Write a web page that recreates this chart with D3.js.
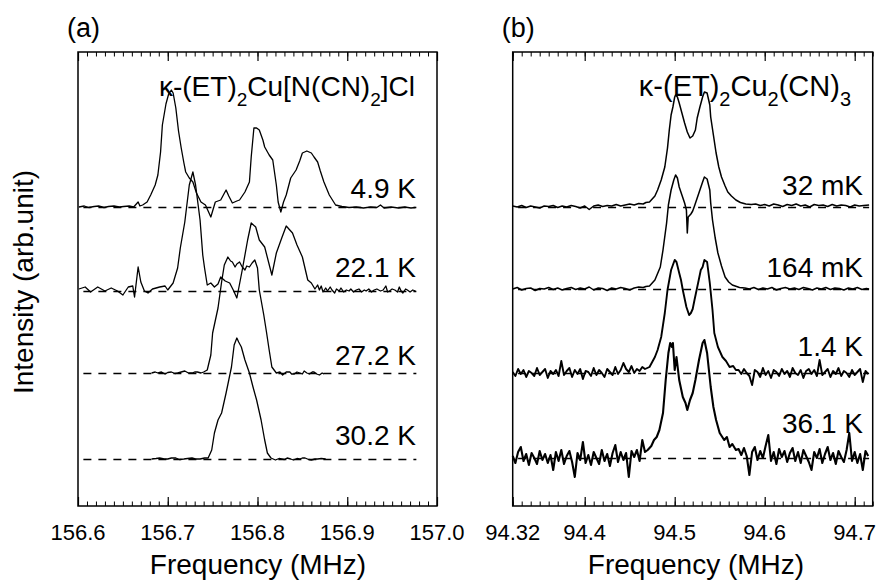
<!DOCTYPE html>
<html>
<head>
<meta charset="utf-8">
<script src="https://cdn.jsdelivr.net/npm/d3@7"></script>
<style>
body { margin: 0; background: white; }
text { font-family: "Liberation Sans", Arial, sans-serif; fill: black; }
</style>
</head>
<body>
<div id="chart"></div>
<script>
// axis ticks
var ticksA = [156.6, 156.7, 156.8, 156.9, 157.0];
var tickLabelsA = ['156.6', '156.7', '156.8', '156.9', '157.0'];
var ticksB = [94.32, 94.4, 94.5, 94.6, 94.7];
var tickLabelsB = ['94.32', '94.4', '94.5', '94.6', '94.7'];

// temperatures and vertical offsets of each trace (arb. unit)
var tempsA = ['4.9 K', '22.1 K', '27.2 K', '30.2 K'];
var offsetsA = [29.9, 21.5, 13.3, 4.7];
var tempsB = ['32 mK', '164 mK', '1.4 K', '36.1 K'];
var offsetsB = [29.9, 21.7, 13.3, 4.8];

// (a) kappa-Cl spectra  [freq MHz, intensity]
var specA_4_9K = [[156.601,0.0],[156.607,0.1],[156.612,-0.05],[156.618,0.05],[156.623,0.1],[156.629,-0.05],[156.634,0.05],[156.640,0.1],[156.646,0.0],[156.651,0.05],[156.657,0.1],[156.662,0.0],[156.667,0.5],[156.669,0.1],[156.672,0.2],[156.677,0.5],[156.681,1.2],[156.686,2.2],[156.689,3.2],[156.692,5.5],[156.694,8.2],[156.698,10.3],[156.701,11.3],[156.704,11.7],[156.706,11.4],[156.709,9.9],[156.712,7.6],[156.715,5.9],[156.718,4.4],[156.720,3.5],[156.724,2.9],[156.728,2.5],[156.732,1.4],[156.737,0.5],[156.742,0.2],[156.746,-0.6],[156.748,-1.0],[156.750,-0.4],[156.753,0.5],[156.759,0.7],[156.762,1.2],[156.765,1.7],[156.768,1.1],[156.772,0.4],[156.777,0.6],[156.780,0.7],[156.786,1.5],[156.791,2.5],[156.793,5.0],[156.796,7.9],[156.799,7.9],[156.802,7.7],[156.806,6.7],[156.808,6.0],[156.813,5.2],[156.817,4.7],[156.821,2.2],[156.823,0.5],[156.826,-0.5],[156.829,0.5],[156.832,1.2],[156.837,2.9],[156.843,3.7],[156.847,4.6],[156.850,5.4],[156.855,5.6],[156.860,5.4],[156.863,5.0],[156.867,4.5],[156.870,3.6],[156.874,2.5],[156.880,1.2],[156.887,0.2],[156.894,0.05],[156.902,-0.05],[156.910,0.0],[156.918,-0.1],[156.926,0.0],[156.933,-0.05],[156.937,0.2],[156.941,-0.1],[156.949,0.0],[156.957,-0.1],[156.964,0.0],[156.971,-0.1],[156.976,-0.05]];
var specA_22_1K = [[156.601,0.2],[156.608,0.4],[156.614,-0.1],[156.622,0.4],[156.630,0.0],[156.637,0.3],[156.644,0.0],[156.650,-0.4],[156.656,0.4],[156.661,0.5],[156.663,-0.6],[156.667,2.4],[156.670,0.9],[156.674,0.0],[156.678,-0.2],[156.683,0.2],[156.691,0.4],[156.697,0.5],[156.700,0.1],[156.706,0.8],[156.711,2.3],[156.714,4.3],[156.719,6.9],[156.724,10.6],[156.728,11.9],[156.731,10.6],[156.736,7.1],[156.739,3.6],[156.741,2.3],[156.744,0.6],[156.748,0.8],[156.752,0.4],[156.756,0.7],[156.759,1.4],[156.764,1.0],[156.769,0.8],[156.773,0.1],[156.777,-0.7],[156.783,2.1],[156.789,5.1],[156.793,6.8],[156.798,6.4],[156.802,5.1],[156.808,4.4],[156.816,1.6],[156.821,3.8],[156.827,5.3],[156.832,6.5],[156.839,5.8],[156.844,4.6],[156.850,3.4],[156.856,1.1],[156.860,0.8],[156.864,0.2],[156.867,0.6],[156.869,0.1],[156.871,0.5],[156.873,-0.1],[156.876,0.3],[156.878,0.0],[156.881,0.4],[156.883,0.1],[156.886,-0.2],[156.888,0.2],[156.891,0.0],[156.893,0.3],[156.896,-0.1],[156.899,0.1],[156.902,0.0],[156.904,0.2],[156.907,-0.1],[156.910,0.1],[156.913,0.2],[156.916,-0.1],[156.919,0.1],[156.921,0.0],[156.924,0.2],[156.927,-0.1],[156.930,0.1],[156.933,0.2],[156.937,0.0],[156.940,0.1],[156.943,0.5],[156.945,-0.1],[156.947,0.0],[156.950,0.2],[156.953,0.1],[156.956,-0.1],[156.958,0.4],[156.960,0.0],[156.962,-0.2],[156.965,0.2],[156.967,0.1],[156.970,-0.1],[156.973,0.1],[156.976,0.0]];
var specA_27_2K = [[156.682,0.0],[156.686,0.1],[156.689,0.0],[156.693,0.1],[156.697,-0.1],[156.700,0.05],[156.704,0.1],[156.708,-0.05],[156.711,0.0],[156.715,0.1],[156.719,0.2],[156.723,0.0],[156.727,0.0],[156.730,0.1],[156.733,0.1],[156.737,0.0],[156.740,0.1],[156.744,0.3],[156.748,1.8],[156.750,4.0],[156.756,6.5],[156.760,9.1],[156.763,10.8],[156.767,11.6],[156.770,11.2],[156.772,11.1],[156.775,10.6],[156.777,10.9],[156.780,11.1],[156.783,10.6],[156.786,10.3],[156.788,10.7],[156.791,10.6],[156.794,11.0],[156.797,11.3],[156.800,10.5],[156.802,8.3],[156.807,5.8],[156.810,4.1],[156.813,2.3],[156.816,0.6],[156.821,0.0],[156.825,0.1],[156.828,-0.2],[156.832,0.1],[156.836,0.1],[156.838,-0.1],[156.841,-0.1],[156.844,0.1],[156.847,0.0],[156.850,-0.1],[156.852,0.2],[156.855,0.0],[156.858,-0.1],[156.861,0.1],[156.863,0.1],[156.866,-0.1],[156.869,-0.2],[156.872,0.0],[156.874,-0.1]];
var specA_30_2K = [[156.682,0.0],[156.687,0.05],[156.691,0.1],[156.696,0.0],[156.700,0.0],[156.704,0.1],[156.709,0.1],[156.713,-0.05],[156.718,0.0],[156.722,0.05],[156.727,0.1],[156.731,0.0],[156.736,0.0],[156.741,0.1],[156.745,0.1],[156.749,0.9],[156.752,2.6],[156.756,3.9],[156.760,4.6],[156.765,6.6],[156.768,7.9],[156.771,9.2],[156.774,11.4],[156.777,12.1],[156.779,11.7],[156.782,11.2],[156.786,9.9],[156.791,8.6],[156.795,7.2],[156.799,5.9],[156.804,3.9],[156.808,1.9],[156.811,0.6],[156.815,0.1],[156.820,-0.1],[156.824,0.05],[156.827,0.0],[156.830,-0.05],[156.833,0.1],[156.837,0.0],[156.840,-0.1],[156.844,0.05],[156.847,0.0],[156.850,0.1],[156.853,0.1],[156.857,-0.05],[156.860,-0.1],[156.864,0.0],[156.867,0.0],[156.871,0.05],[156.876,0.0]];

// (b) kappa-CN spectra  [freq MHz, intensity]
var specB_32mK = [[94.320,0.1],[94.325,0.0],[94.330,0.15],[94.335,-0.05],[94.340,0.1],[94.345,0.0],[94.350,-0.1],[94.355,0.1],[94.360,0.05],[94.365,0.15],[94.370,-0.05],[94.375,0.1],[94.380,0.0],[94.385,0.15],[94.390,0.05],[94.395,-0.1],[94.400,0.1],[94.405,-0.25],[94.410,0.1],[94.415,0.2],[94.420,0.05],[94.425,0.15],[94.430,0.1],[94.435,0.25],[94.440,0.1],[94.445,0.2],[94.450,0.3],[94.455,0.2],[94.460,0.35],[94.465,0.3],[94.468,0.45],
  [94.472,0.5],[94.478,1.1],[94.481,1.7],[94.485,2.7],[94.489,4.0],[94.492,5.9],[94.494,7.7],[94.496,9.2],[94.498,10.0],[94.500,11.0],[94.501,11.2],[94.503,11.0],[94.505,10.4],[94.508,9.4],[94.511,8.4],[94.514,7.5],[94.517,6.9],[94.520,7.1],[94.523,7.7],[94.525,8.9],[94.528,10.0],[94.531,11.0],[94.533,11.5],[94.536,11.4],[94.537,11.0],[94.539,10.2],[94.540,9.0],[94.543,7.2],[94.546,5.4],[94.549,4.0],[94.552,3.0],[94.556,2.1],[94.559,1.5],[94.563,1.1],[94.568,0.7],[94.573,0.45],[94.579,0.3],
  [94.585,0.25],[94.590,0.3],[94.595,0.15],[94.600,0.25],[94.605,0.1],[94.610,0.3],[94.615,0.2],[94.620,0.05],[94.625,0.25],[94.630,0.15],[94.635,0.3],[94.640,0.1],[94.645,0.2],[94.650,0.0],[94.655,0.25],[94.660,0.15],[94.665,0.2],[94.670,0.05],[94.675,0.25],[94.680,0.1],[94.685,0.2],[94.690,0.15],[94.695,0.0],[94.700,0.2],[94.705,0.1],[94.710,0.15],[94.716,0.2]];
var specB_164mK = [[94.320,0.0],[94.325,0.15],[94.330,-0.1],[94.335,0.05],[94.340,0.1],[94.345,-0.15],[94.350,0.05],[94.355,0.0],[94.360,0.15],[94.365,-0.05],[94.370,0.1],[94.375,-0.1],[94.380,0.05],[94.385,0.15],[94.390,-0.05],[94.395,0.1],[94.400,0.0],[94.405,0.2],[94.410,-0.1],[94.415,0.1],[94.420,0.05],[94.425,-0.15],[94.430,0.1],[94.435,0.0],[94.440,0.15],[94.445,0.05],[94.450,-0.1],[94.455,0.1],[94.460,0.2],[94.465,0.15],[94.468,0.25],
  [94.472,0.3],[94.478,0.9],[94.484,2.2],[94.487,3.9],[94.491,6.6],[94.493,8.4],[94.496,9.9],[94.499,10.9],[94.501,11.4],[94.503,11.1],[94.505,10.2],[94.508,9.4],[94.511,8.6],[94.513,7.9],[94.514,5.6],[94.515,7.2],[94.518,7.5],[94.520,7.8],[94.522,8.3],[94.525,9.1],[94.528,9.9],[94.531,10.7],[94.533,11.2],[94.536,11.0],[94.539,9.9],[94.540,8.6],[94.542,6.9],[94.545,5.1],[94.548,3.6],[94.552,2.3],[94.556,1.2],[94.560,0.7],[94.564,0.4],[94.572,0.15],
  [94.578,0.1],[94.583,0.0],[94.588,0.15],[94.593,-0.05],[94.598,0.1],[94.603,0.0],[94.608,0.15],[94.613,-0.1],[94.618,0.05],[94.623,0.15],[94.628,0.0],[94.633,0.1],[94.638,-0.05],[94.643,0.15],[94.648,0.05],[94.653,-0.1],[94.658,0.1],[94.663,0.0],[94.668,0.15],[94.673,-0.05],[94.678,0.1],[94.683,0.05],[94.688,-0.1],[94.693,0.1],[94.698,0.0],[94.703,0.15],[94.708,-0.05],[94.713,0.05],[94.716,0.0]];
var specB_1_4K = [[94.320,0.1],[94.323,-0.3],[94.326,0.4],[94.329,-0.1],[94.332,0.3],[94.335,-0.4],[94.338,0.2],[94.341,0.0],[94.344,-0.3],[94.347,0.5],[94.350,-0.2],[94.353,0.1],[94.356,0.4],[94.359,-0.5],[94.362,0.2],[94.365,-0.1],[94.368,0.3],[94.371,-0.3],[94.374,1.2],[94.377,-0.2],[94.380,0.2],[94.383,0.5],[94.386,-0.4],[94.389,0.3],[94.392,-0.1],[94.395,0.4],[94.398,-0.6],[94.401,0.2],[94.404,0.1],[94.407,-0.3],[94.410,0.5],[94.413,-0.2],[94.416,0.3],[94.419,0.0],[94.422,-0.4],[94.425,0.4],[94.428,0.1],[94.431,-0.2],[94.434,0.6],[94.437,-0.1],[94.440,0.3],[94.443,1.0],[94.446,0.4],[94.449,0.1],[94.452,0.7],[94.455,0.0],[94.458,0.4],[94.461,0.2],[94.464,0.6],[94.467,0.4],
  [94.472,0.6],[94.478,1.6],[94.481,2.3],[94.485,3.6],[94.489,6.0],[94.492,8.3],[94.496,10.3],[94.498,10.8],[94.500,11.3],[94.502,11.1],[94.505,10.0],[94.507,9.3],[94.509,8.3],[94.513,6.6],[94.516,5.8],[94.518,6.0],[94.520,6.4],[94.522,7.3],[94.526,9.0],[94.529,10.3],[94.531,10.6],[94.533,11.3],[94.536,11.1],[94.539,9.0],[94.542,6.3],[94.544,4.0],[94.548,2.6],[94.553,1.6],[94.557,1.2],[94.561,0.6],[94.565,0.7],[94.568,0.3],
  [94.571,0.3],[94.574,-0.1],[94.577,0.4],[94.580,0.0],[94.583,-0.3],[94.586,-1.2],[94.589,0.3],[94.592,0.1],[94.595,-0.4],[94.598,0.5],[94.601,-0.2],[94.604,0.2],[94.607,-0.5],[94.610,0.3],[94.613,0.1],[94.616,-0.3],[94.619,0.4],[94.622,-0.1],[94.625,0.2],[94.628,-0.4],[94.631,0.5],[94.634,0.0],[94.637,-0.2],[94.640,0.3],[94.643,-0.5],[94.646,0.2],[94.649,0.4],[94.652,-0.1],[94.655,0.3],[94.658,-0.3],[94.661,1.3],[94.664,-0.2],[94.667,0.1],[94.670,0.4],[94.673,-0.4],[94.676,0.2],[94.679,-0.1],[94.682,0.5],[94.685,-0.3],[94.688,0.2],[94.691,0.0],[94.694,-0.4],[94.697,0.3],[94.700,-0.2],[94.703,0.1],[94.706,0.4],[94.709,-0.9],[94.712,0.2],[94.715,-0.1]];
var specB_36_1K = [[94.320,0.2],[94.323,-0.5],[94.326,0.6],[94.329,1.1],[94.332,-0.3],[94.335,0.4],[94.338,-0.7],[94.341,0.5],[94.344,0.0],[94.347,-0.6],[94.350,0.7],[94.353,-0.2],[94.356,0.4],[94.359,-0.5],[94.362,0.3],[94.365,-1.2],[94.368,0.6],[94.371,-0.3],[94.374,0.8],[94.377,-0.6],[94.380,0.2],[94.383,0.7],[94.386,-0.4],[94.389,-1.9],[94.392,0.5],[94.395,-0.2],[94.398,1.6],[94.401,-0.5],[94.404,0.3],[94.407,-0.7],[94.410,0.6],[94.413,0.0],[94.416,-0.6],[94.419,0.8],[94.422,-0.3],[94.425,0.4],[94.428,-0.8],[94.431,0.5],[94.434,1.3],[94.437,-0.4],[94.440,0.6],[94.443,-0.2],[94.446,0.5],[94.449,-1.9],[94.452,0.7],[94.455,0.1],[94.458,0.8],[94.461,-0.3],[94.464,1.8],[94.467,0.6],
  [94.470,0.8],[94.474,1.2],[94.477,1.8],[94.480,2.1],[94.483,2.8],[94.487,4.5],[94.490,7.8],[94.493,10.5],[94.495,11.5],[94.497,11.1],[94.498,11.5],[94.500,8.8],[94.502,10.1],[94.505,7.8],[94.509,6.1],[94.512,5.5],[94.514,4.8],[94.517,5.8],[94.520,6.5],[94.523,7.8],[94.527,9.8],[94.531,11.5],[94.533,11.8],[94.536,10.5],[94.538,8.8],[94.540,7.1],[94.543,5.1],[94.546,3.8],[94.550,2.5],[94.555,1.8],[94.558,2.1],[94.561,1.1],[94.564,1.4],[94.568,0.8],
  [94.571,0.9],[94.574,0.3],[94.577,1.0],[94.580,0.2],[94.583,-1.7],[94.586,0.6],[94.589,1.1],[94.592,-0.2],[94.595,0.7],[94.598,0.0],[94.601,1.2],[94.604,2.3],[94.607,-0.3],[94.610,0.6],[94.613,-0.6],[94.616,0.9],[94.619,0.1],[94.622,0.7],[94.625,-0.4],[94.628,0.5],[94.631,1.0],[94.634,-0.3],[94.637,0.6],[94.640,-0.5],[94.643,0.8],[94.646,0.2],[94.649,-0.4],[94.652,-1.2],[94.655,0.6],[94.658,0.0],[94.661,0.9],[94.664,-0.5],[94.667,0.4],[94.670,1.1],[94.673,-0.2],[94.676,0.5],[94.679,-0.6],[94.682,0.7],[94.685,0.1],[94.688,-0.4],[94.691,0.8],[94.694,2.5],[94.697,-0.3],[94.700,0.6],[94.703,-0.5],[94.706,0.4],[94.709,-1.2],[94.712,0.7],[94.715,0.2]];

var spectraA = [specA_4_9K, specA_22_1K, specA_27_2K, specA_30_2K];
var spectraB = [specB_32mK, specB_164mK, specB_1_4K, specB_36_1K];

var titleA = [['κ-(ET)', 0], ['2', 1], ['Cu[N(CN)', 0], ['2', 1], [']Cl', 0]];
var titleB = [['κ-(ET)', 0], ['2', 1], ['Cu', 0], ['2', 1], ['(CN)', 0], ['3', 1]];

var svgWidth = 876, svgHeight = 581;
var plotTop = 52, plotBottom = 506;

var svg = d3.select('#chart').append('svg')
    .attr('width', svgWidth)
    .attr('height', svgHeight)
    .style('background', 'white');

var y = d3.scaleLinear().domain([0, 45.4]).range([plotBottom, plotTop]);

function drawPanel(opt) {
    var x = d3.scaleLinear().domain(opt.domain).range(opt.range);
    var g = svg.append('g');

    // dashed zero lines
    opt.offsets.forEach(function(off) {
        var yy = Math.round(y(off)) + 0.5;
        g.append('line')
            .attr('x1', x(opt.dash[0])).attr('x2', x(opt.dash[1]))
            .attr('y1', yy).attr('y2', yy)
            .attr('stroke', 'black').attr('stroke-width', 1.3)
            .attr('stroke-dasharray', '8,7');
    });

    // spectra
    opt.spectra.forEach(function(s, i) {
        var line = d3.line()
            .x(function(d) { return x(d[0]); })
            .y(function(d) { return y(opt.offsets[i] + d[1]); });
        g.append('path').datum(s)
            .attr('d', line)
            .attr('fill', 'none')
            .attr('stroke', 'black')
            .attr('stroke-width', opt.lw[i])
            .attr('stroke-linejoin', 'round');
    });

    // frame
    g.append('rect')
        .attr('x', opt.range[0]).attr('y', plotTop)
        .attr('width', opt.range[1] - opt.range[0]).attr('height', plotBottom - plotTop)
        .attr('fill', 'none').attr('stroke', 'black').attr('stroke-width', 1.5);

    // ticks, pointing inward, bottom and top
    var minor = d3.range(0, 41).map(function(i) { return opt.domain[0] + i * 0.01; });
    [[d3.axisBottom, plotBottom], [d3.axisTop, plotTop]].forEach(function(a) {
        g.append('g').attr('transform', 'translate(0,' + a[1] + ')')
            .call(a[0](x).tickValues(minor).tickSize(-4.5).tickFormat(''))
            .call(function(s) { s.select('.domain').remove(); s.selectAll('line').attr('stroke-width', 1); });
        g.append('g').attr('transform', 'translate(0,' + a[1] + ')')
            .call(a[0](x).tickValues(opt.ticks).tickSize(-9).tickFormat(''))
            .call(function(s) { s.select('.domain').remove(); s.selectAll('line').attr('stroke-width', 1.2); });
    });

    // tick labels
    g.selectAll('.tl').data(opt.ticks).enter().append('text')
        .text(function(d, i) { return opt.tickLabels[i]; })
        .attr('x', function(d) { return x(d); })
        .attr('y', 540)
        .attr('text-anchor', 'middle')
        .attr('font-size', '22px');

    // x title
    g.append('text').text('Frequency (MHz)')
        .attr('x', opt.titleX).attr('y', 574)
        .attr('text-anchor', 'middle')
        .attr('font-size', '28px');

    // panel letter
    g.append('text').text(opt.letter)
        .attr('x', opt.range[0] - 11).attr('y', 37)
        .attr('font-size', '27px');

    // temperature labels
    opt.temps.forEach(function(t, i) {
        g.append('text').text(t)
            .attr('x', opt.labelX).attr('y', opt.labelY[i])
            .attr('text-anchor', 'end')
            .attr('font-size', '28px');
    });

    // compound name
    var ct = g.append('text')
        .attr('x', opt.nameX).attr('y', 96)
        .attr('text-anchor', 'end')
        .attr('font-size', opt.nameSize + 'px');
    var prevSub = 0;
    opt.name.forEach(function(p) {
        var dy = (p[1] - prevSub) * 10;
        ct.append('tspan').text(p[0])
            .attr('dy', dy)
            .attr('font-size', (p[1] ? opt.nameSize - 9 : opt.nameSize) + 'px');
        prevSub = p[1];
    });
}

drawPanel({
    domain: [156.6, 157.0], range: [78, 437], ticks: ticksA, tickLabels: tickLabelsA,
    spectra: spectraA, offsets: offsetsA, temps: tempsA, lw: [1.3, 1.3, 1.3, 1.3],
    dash: [156.606, 156.977], labelX: 416, labelY: [198, 277, 365, 445],
    name: titleA, nameX: 415, nameSize: 28, letter: '(a)', titleX: 258
});

drawPanel({
    domain: [94.32, 94.72], range: [512.7, 872.7], ticks: ticksB, tickLabels: tickLabelsB,
    spectra: spectraB, offsets: offsetsB, temps: tempsB, lw: [1.5, 1.5, 1.9, 2.1],
    dash: [94.326, 94.716], labelX: 863, labelY: [195, 277, 356, 433],
    name: titleB, nameX: 851, nameSize: 29, letter: '(b)', titleX: 696
});

// y title
svg.append('text').text('Intensity (arb.unit)')
    .attr('transform', 'translate(33,282) rotate(-90)')
    .attr('text-anchor', 'middle')
    .attr('font-size', '28px');
</script>
</body>
</html>
